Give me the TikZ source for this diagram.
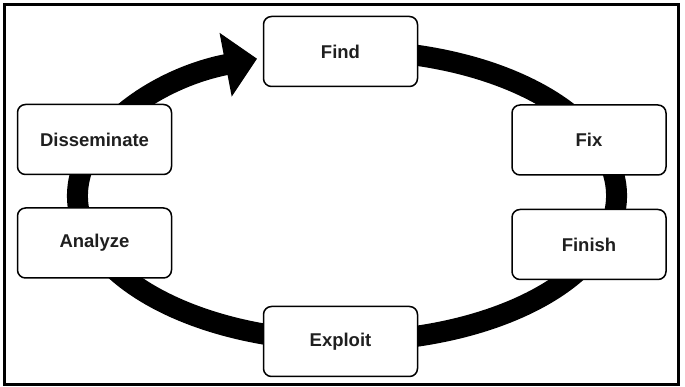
\documentclass[tikz,border=0pt]{standalone}
\usepackage{fontspec}
\setmainfont{Liberation Sans}
\usetikzlibrary{arrows.meta}
\begin{document}
\begin{tikzpicture}[x=1pt,y=1pt,
  stage/.style={draw=black, line width=1.5pt, rounded corners=8pt, fill=white,
    minimum width=154pt, minimum height=70pt, inner sep=0pt,
    font=\fontsize{18.5}{21}\selectfont\bfseries, text=black!88},
  cyclearc/.style={line width=21pt, -{Triangle[length=32pt,width=63pt]}}]
\useasboundingbox (0,0) rectangle (685,387);
\draw[line width=3pt] (4.3,2.5) rectangle (678,382.7);
\coordinate (C) at (347,191.25);
\draw[cyclearc] ([shift={(80:269.5pt and 145.4pt)}]C) arc[start angle=80,end angle=-250.5,x radius=269.5pt,y radius=145.4pt];
\node[stage] (find) at (340.5,335.5) {Find};
\node[stage] (fix) at (589,247) {Fix};
\node[stage] (finish) at (589,142.5) {Finish};
\node[stage] (exploit) at (340.5,45.5) {Exploit};
\node[stage] (analyze) at (94.5,144) {Analyze};
\node[stage] (dissem) at (94.5,247.5) {Disseminate};
\end{tikzpicture}
\end{document}
